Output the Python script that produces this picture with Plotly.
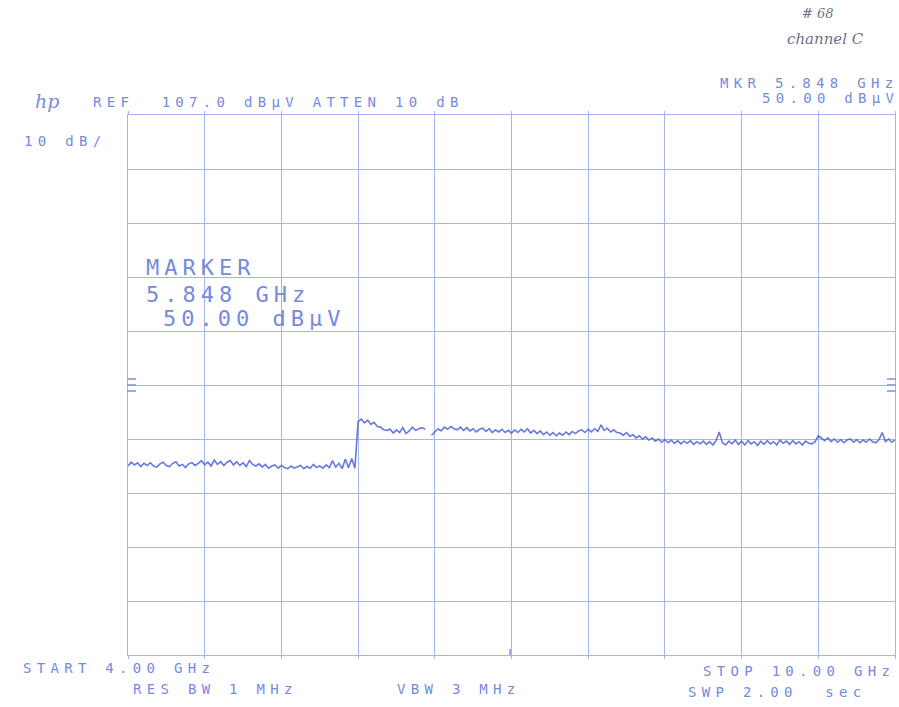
import numpy as np
import plotly.graph_objects as go

# Sweep settings shown on the plotter output
START_GHZ = 4.0
STOP_GHZ = 10.0
REF_LEVEL = 107.0      # dBuV, top graticule line
DB_PER_DIV = 10.0
N_DIV = 10

# Trace levels (dBuV), one sample every 25 MHz from START to STOP.
# None marks the short break in the plotted trace.
LEVEL_LOW_BAND = [
    42.0, 42.7, 42.2, 42.6, 41.9, 42.5, 42.1, 42.6, 42.0, 41.8,
    42.4, 42.7, 42.1, 41.9, 42.5, 42.8, 42.0, 42.3, 41.7, 42.4,
    42.6, 42.1, 42.5, 43.0, 42.2, 42.7, 42.0, 43.1, 42.3, 42.8,
    42.1, 42.7, 43.0, 42.2, 42.8, 42.1, 42.6, 41.9, 43.0, 42.3,
    42.0, 42.4, 41.8, 42.3, 41.6, 42.0, 42.2, 41.6, 42.1, 41.7,
    41.5, 42.0, 41.6, 41.9, 42.1, 41.5, 41.9, 41.6, 42.3, 41.7,
    42.0, 41.6, 42.2, 41.7, 43.0, 41.8, 42.5, 41.5, 43.3, 41.7,
    43.4, 41.6,
]
LEVEL_STEP_BAND = [
    50.2, 50.7, 50.0, 50.5, 49.7, 50.1, 49.3, 49.2, 48.7, 48.6,
    48.8, 48.1, 48.7, 48.2, 49.1, 48.0, 48.5, 49.2, 48.6, 48.9,
    49.1, 48.8, None,
]
LEVEL_MID_BAND = [
    47.7, 48.3, 48.9, 48.5, 49.2, 48.8, 49.3, 48.9, 48.7, 49.2,
    48.6, 49.1, 48.5, 48.9, 48.3, 48.8, 49.0, 48.4, 48.9, 48.2,
    48.7, 48.3, 48.8, 48.2, 48.6, 48.1,
    48.7, 48.2, 48.8, 48.3, 48.9, 48.1, 48.6, 48.0, 48.5,
    47.8, 48.3, 47.7, 48.2, 47.6, 48.1, 47.7, 48.3, 47.8, 48.4, 48.0, 48.5,
    48.7, 48.2, 48.8, 48.3, 48.9, 48.4, 49.6, 48.6, 49.0, 48.3, 48.7, 48.2,
    48.1, 47.7, 48.2, 47.5, 47.8, 47.2, 47.6, 47.0, 47.4, 46.8, 47.2, 46.6, 47.0,
]
LEVEL_HIGH_BAND = [
    46.4, 46.9, 46.3, 46.8, 46.2, 46.7, 46.1, 46.6, 46.2, 46.7, 46.0, 46.5, 46.1,
    46.6, 46.0, 46.5, 45.9, 46.7, 48.3, 46.3, 45.9, 46.6, 46.1,
    46.8, 46.0, 46.6, 45.9, 46.7, 46.1, 46.5, 45.8, 46.6, 46.0,
    46.7, 46.1, 46.5, 45.9, 46.8, 46.2, 46.6, 46.0, 46.7, 46.1,
    46.5, 45.9, 46.6, 46.2, 46.1, 46.5,
    47.6, 47.1, 46.7, 47.2, 46.5, 47.0, 46.4, 46.9, 46.3, 46.8,
    47.0, 46.4, 46.9, 46.3, 46.8, 46.4, 47.0, 46.5, 46.3, 46.9,
    48.2, 46.5, 47.0, 46.4, 46.8,
]
LEVELS = LEVEL_LOW_BAND + LEVEL_STEP_BAND + LEVEL_MID_BAND + LEVEL_HIGH_BAND
FREQS = np.linspace(START_GHZ, STOP_GHZ, len(LEVELS))

# Plotter annotations
HEADER_REF = "REF  107.0 dBµV ATTEN 10 dB"
HEADER_SCALE = "10 dB/"
MKR_LINE1 = "MKR 5.848 GHz"
MKR_LINE2 = "50.00 dBµV"
MARKER_TITLE = "MARKER"
MARKER_FREQ = "5.848 GHz"
MARKER_LEVEL = "50.00 dBµV"
FOOT_START = "START 4.00 GHz"
FOOT_STOP = "STOP 10.00 GHz"
FOOT_RBW = "RES BW 1 MHz"
FOOT_VBW = "VBW 3 MHz"
FOOT_SWP = "SWP 2.00  sec"
NOTE_NUMBER = "# 68"
NOTE_CHANNEL = "channel C"

GRID = "rgb(165,180,238)"
TRACE = "rgba(78,98,215,0.85)"
TEXT = "rgb(118,138,222)"
INK = "rgb(112,112,140)"

# plot area in pixels
L, R, T, B = 128, 895, 115, 655
W, H = 899, 707

fig = go.Figure()
fig.add_trace(go.Scatter(
    x=FREQS, y=LEVELS, mode="lines", connectgaps=False,
    line=dict(color=TRACE, width=1.6), hoverinfo="skip", showlegend=False,
))

bottom = REF_LEVEL - N_DIV * DB_PER_DIV
fig.update_xaxes(
    range=[START_GHZ, STOP_GHZ], dtick=(STOP_GHZ - START_GHZ) / N_DIV,
    tick0=START_GHZ, showticklabels=False, showgrid=True, gridcolor=GRID,
    gridwidth=1, zeroline=False, showline=True, linecolor=GRID, linewidth=1.2,
    mirror="ticks", ticks="outside", ticklen=3, tickcolor=GRID,
)
fig.update_yaxes(
    range=[bottom, REF_LEVEL], dtick=DB_PER_DIV, tick0=bottom,
    showticklabels=False, showgrid=True, gridcolor=GRID, gridwidth=1,
    zeroline=False, showline=True, linecolor=GRID, linewidth=1.2,
    mirror=True, ticks="",
)


def px_x(px):
    return (px - L) / (R - L)


def px_y(py):
    return (B - py) / (B - T)


def label(txt, px, py, size, spacing, color=TEXT, family="DejaVu Sans Mono"):
    fig.add_annotation(
        xref="paper", yref="paper", x=px_x(px), y=px_y(py),
        text=f'<span style="letter-spacing:{spacing}px">{txt}</span>',
        showarrow=False, xanchor="left", yanchor="middle", borderpad=0,
        font=dict(family=family, size=size, color=color), align="left",
    )


SMALL, SMALL_SP = 14, 5.3
BIG, BIG_SP = 22, 5.0

fig.add_annotation(
    xref="paper", yref="paper", x=px_x(34), y=px_y(101), text="<i>hp</i>",
    showarrow=False, xanchor="left", yanchor="middle", borderpad=0,
    font=dict(family="DejaVu Serif", size=19, color=TEXT),
)
label(HEADER_REF, 92, 102, SMALL, SMALL_SP)
label(HEADER_SCALE, 23, 141, SMALL, SMALL_SP)
label(MKR_LINE1, 719, 83, SMALL, SMALL_SP)
label(MKR_LINE2, 761, 98, SMALL, SMALL_SP)

label(MARKER_TITLE, 145, 267, BIG, BIG_SP)
label(MARKER_FREQ, 145, 294, BIG, BIG_SP)
label(MARKER_LEVEL, 162, 318, BIG, BIG_SP)

label(FOOT_START, 22, 668, SMALL, SMALL_SP)
label(FOOT_RBW, 132, 689, SMALL, SMALL_SP)
label(FOOT_VBW, 396, 689, SMALL, SMALL_SP)
label(FOOT_STOP, 702, 671, SMALL, SMALL_SP)
label(FOOT_SWP, 687, 692, SMALL, SMALL_SP)

# handwritten notes
fig.add_annotation(
    xref="paper", yref="paper", x=px_x(818), y=px_y(13), text=f"<i>{NOTE_NUMBER}</i>",
    showarrow=False, xanchor="center", yanchor="middle",
    font=dict(family="DejaVu Serif", size=13, color=INK),
)
fig.add_annotation(
    xref="paper", yref="paper", x=px_x(825), y=px_y(39), text=f"<i>{NOTE_CHANNEL}</i>",
    showarrow=False, xanchor="center", yanchor="middle",
    font=dict(family="DejaVu Serif", size=15, color=INK),
)

# display-line indicators on both graticule edges
for side_x0, side_x1 in ((L - 1, L + 8), (R - 8, R + 1)):
    for dy in (-6, 0, 6):
        fig.add_shape(
            type="line", xref="paper", yref="paper",
            x0=px_x(side_x0), x1=px_x(side_x1),
            y0=px_y(385 + dy), y1=px_y(385 + dy),
            line=dict(color="rgb(130,150,228)", width=1.6),
        )
fig.add_shape(
    type="line", xref="paper", yref="paper",
    x0=px_x(510), x1=px_x(510), y0=px_y(649), y1=px_y(655),
    line=dict(color="rgb(130,150,228)", width=1.6),
)

fig.update_layout(
    width=W, height=H,
    margin=dict(l=L, r=W - R, t=T, b=H - B),
    paper_bgcolor="white", plot_bgcolor="white",
    showlegend=False,
)

fig.write_html("out.html")
